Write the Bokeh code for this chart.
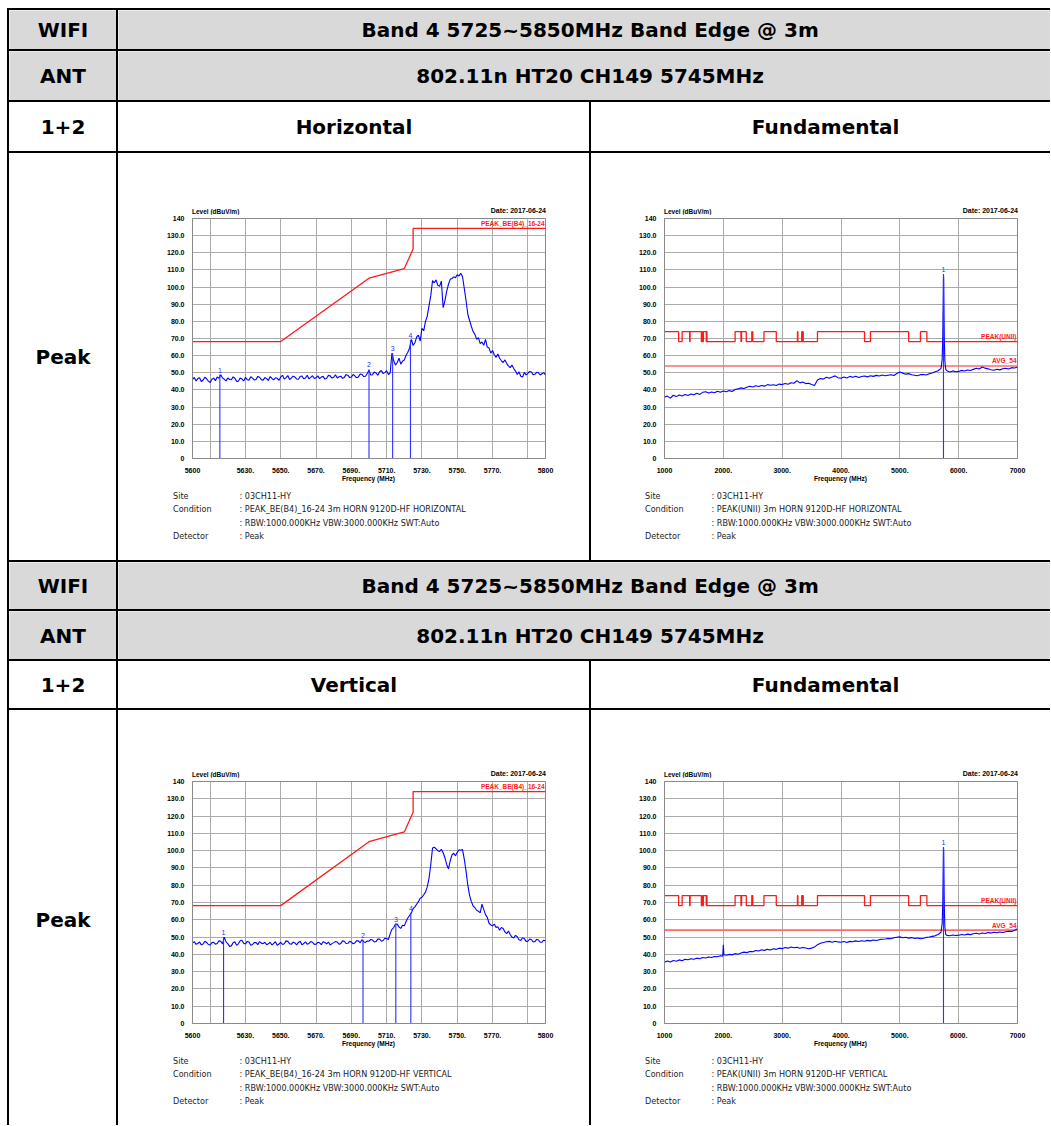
from bokeh.plotting import figure
from bokeh.models import Range1d, FixedTicker, Label, Div
from bokeh.layouts import column, row
from bokeh.embed import file_html
from bokeh.resources import INLINE
from bokeh.core.properties import value

# ---------------- table texts ----------------
hdr_wifi = "WIFI"
hdr_band = "Band 4 5725~5850MHz Band Edge @ 3m"
hdr_ant = "ANT"
hdr_mode = "802.11n HT20 CH149 5745MHz"
hdr_chain = "1+2"
hdr_pol = ["Horizontal", "Vertical"]
hdr_fund = "Fundamental"
hdr_det = "Peak"

# ---------------- chart texts ----------------
level_title = "Level (dBuV/m)"
date_text = "Date: 2017-06-24"
freq_title = "Frequency (MHz)"
be_limit_name = "PEAK_BE(B4)_16-24"
peak_limit_name = "PEAK(UNII)"
avg_limit_name = "AVG_54"

y_ticks = [0, 10, 20, 30, 40, 50, 60, 70, 80, 90, 100, 110, 120, 130, 140]
y_tick_text = ["0", "10.0", "20.0", "30.0", "40.0", "50.0", "60.0", "70.0", "80.0",
               "90.0", "100.0", "110.0", "120.0", "130.0", "140"]
y_grid = [10, 20, 30, 40, 50, 60, 70, 80, 90, 100, 110, 120, 130]

be_x_ticks = [5600, 5630, 5650, 5670, 5690, 5710, 5730, 5750, 5770, 5800]
be_x_text = ["5600", "5630.", "5650.", "5670.", "5690.", "5710.", "5730.", "5750.", "5770.", "5800"]
be_x_grid = [5610, 5630, 5650, 5670, 5690, 5710, 5730, 5750, 5770, 5790]

fu_x_ticks = [1000, 2000, 3000, 4000, 5000, 6000, 7000]
fu_x_text = ["1000", "2000.", "3000.", "4000.", "5000.", "6000.", "7000"]
fu_x_grid = [2000, 3000, 4000, 5000, 6000]

# ---------------- band edge traces (MHz, dBuV/m), 1 MHz steps ----------------
be_freq = list(range(5600, 5801))
h_be_level = [
    46.0, 47.3, 45.2, 46.6, 47.1, 44.9, 45.8, 47.4, 46.5, 45.1,
    44.3, 46.2, 46.9, 45.4, 47.5, 46.8, 48.8, 47.0, 46.2, 45.3,
    47.0, 46.1, 45.9, 47.6, 46.8, 45.0, 45.1, 46.9, 46.4, 45.2,
    47.3, 46.0, 45.6, 47.7, 46.9, 45.8, 46.1, 47.9, 47.4, 46.0,
    45.7, 47.2, 46.6, 45.5, 47.8, 46.7, 45.9, 47.1, 46.8, 45.6,
    47.6, 48.5, 46.3, 47.2, 48.4, 46.1, 46.9, 48.0, 47.5, 46.4,
    46.2, 47.8, 48.1, 46.5, 47.0, 48.6, 46.4, 47.3, 48.3, 46.7,
    47.1, 48.2, 46.6, 47.5, 47.9, 46.3, 46.8, 48.5, 48.2, 46.9,
    47.4, 48.8, 46.9, 47.7, 48.0, 46.8, 47.3, 48.9, 48.6, 47.2,
    47.5, 49.0, 48.2, 47.1, 47.6, 49.3, 49.1, 47.8, 48.0, 49.6,
    51.5, 48.7, 48.9, 50.4, 49.8, 48.6, 50.6, 51.3, 49.5, 50.1,
    51.2, 49.0, 50.0, 61.5, 57.0, 54.5, 56.0, 58.5, 55.0, 56.8,
    57.5, 60.2, 62.0, 64.5, 69.5, 66.0, 67.5, 71.0, 72.0, 68.5,
    76.0, 74.5, 80.0, 83.0, 89.0, 95.0, 103.8, 102.5, 104.2, 101.0,
    100.5, 103.5, 88.0, 92.0, 97.5, 101.5, 104.5, 105.0, 106.0, 105.5,
    107.2, 106.5, 108.0, 106.0, 99.0, 92.0, 84.0, 80.5, 77.0, 74.0,
    72.5, 69.5, 70.5, 67.0, 68.0, 66.0, 69.5, 65.0, 64.5, 61.5,
    63.0, 60.5, 59.0, 61.0, 58.5, 57.0, 56.0, 57.5, 55.5, 54.0,
    53.0, 54.5, 52.5, 51.0, 49.0, 50.5, 48.0, 47.5, 50.2, 48.8,
    49.6, 50.8, 50.5, 48.9, 49.1, 50.3, 50.0, 48.7, 49.4, 50.1,
    48.8]
v_be_level = [
    46.5, 47.4, 45.8, 46.3, 47.2, 45.5, 46.0, 47.6, 46.9, 45.7,
    45.4, 46.8, 47.0, 45.9, 46.3, 47.8, 47.6, 46.0, 50.0, 47.2,
    46.2, 44.6, 44.9, 46.7, 47.3, 45.2, 46.1, 47.9, 48.2, 46.4,
    46.0, 47.5, 47.1, 45.3, 45.7, 46.9, 46.8, 45.6, 47.4, 46.5,
    46.2, 47.0, 45.6, 46.1, 47.0, 45.4, 46.4, 47.3, 45.3, 46.0,
    46.9, 45.7, 46.1, 47.8, 47.5, 46.2, 45.8, 47.1, 46.6, 45.5,
    46.9, 47.6, 45.5, 46.3, 47.2, 45.9, 46.3, 47.4, 47.0, 45.8,
    45.9, 47.0, 46.7, 45.6, 47.3, 46.9, 46.0, 47.1, 45.4, 46.2,
    46.8, 47.5, 47.1, 45.9, 46.2, 47.8, 47.6, 46.3, 46.4, 47.5,
    47.2, 46.1, 46.6, 47.9, 47.8, 46.7, 48.5, 47.3, 46.9, 47.7,
    47.6, 48.6, 48.3, 47.2, 47.4, 48.8, 48.9, 47.6, 48.0, 49.3,
    49.2, 48.5, 52.0, 54.5, 55.5, 57.5, 57.5, 55.8, 55.0, 56.8,
    56.5, 59.0, 61.0, 62.5, 64.0, 66.5, 67.5, 69.0, 70.5, 72.5,
    73.0, 74.5, 76.0, 79.0, 84.0, 92.0, 101.5, 102.0, 101.0, 100.0,
    99.5, 100.8, 98.8, 96.0, 92.0, 89.5, 94.0, 97.5, 98.5, 97.0,
    99.0, 100.5, 100.2, 100.6, 95.0, 88.0, 80.0, 74.0, 70.5, 68.0,
    67.0, 65.5, 65.0, 64.0, 69.0, 66.0, 63.0, 61.5, 58.0, 57.0,
    56.5, 57.5, 55.5, 56.0, 54.0, 55.5, 55.0, 53.0, 52.0, 53.5,
    51.5, 50.0, 49.5, 51.0, 50.2, 48.5, 48.0, 49.6, 49.1, 47.5,
    47.6, 48.9, 48.6, 47.2, 47.4, 48.7, 48.3, 47.0, 47.1, 48.2,
    47.8]
assert len(be_freq) == len(h_be_level) == len(v_be_level)

be_limit_freq = [5600, 5650, 5700, 5720, 5725, 5725, 5800]
be_limit_level = [68.2, 68.2, 105.2, 110.8, 122.2, 134.2, 134.2]

h_be_mk_freq = [5615.5, 5700.0, 5713.4, 5723.5]
h_be_mk_level = [49.0, 52.0, 61.5, 69.0]
v_be_mk_freq = [5617.6, 5696.6, 5715.2, 5723.7]
v_be_mk_level = [50.0, 48.5, 57.5, 64.0]
mk_names = ["1", "2", "3", "4"]

# ---------------- fundamental traces ----------------
fu_peak_freq = [5720, 5730, 5738, 5742, 5746, 5750, 5756, 5765, 5780]
h_fu_freq = list(range(1000, 5701, 50)) + fu_peak_freq + list(range(5800, 7001, 50))
h_fu_level = [
    35.8, 36.4, 35.2, 36.9, 36.1, 37.0, 36.5, 37.3, 36.8, 37.6,
    37.2, 38.1, 37.4, 38.6, 38.9, 38.2, 38.8, 38.3, 39.2, 38.7,
    39.4, 38.9, 39.6, 39.1, 40.2, 40.6, 41.2, 40.8, 41.6, 42.1,
    41.7, 42.4, 42.0, 42.6, 42.2, 43.1, 42.7, 43.0, 42.6, 43.4,
    43.1, 43.8, 43.3, 44.2, 43.9, 45.4, 44.1, 44.6, 43.7, 43.9,
    43.2, 42.6, 45.8, 46.7, 46.3, 47.4, 46.8, 47.6, 48.2, 47.1,
    46.8, 47.5, 47.0, 47.9, 47.4, 48.0, 47.3, 47.8, 48.1, 47.6,
    48.3, 47.9, 48.5, 48.1, 48.7, 48.3, 48.6, 48.9, 48.4, 49.6,
    50.4, 49.8, 49.2, 49.5, 48.9, 48.6, 48.3, 48.9, 49.0, 48.7,
    49.5, 49.9, 50.6, 51.2, 52.6,
    58.0, 72.0, 95.0, 107.5, 104.0, 88.0, 70.0, 57.0, 52.0,
    51.2, 50.5, 51.1, 50.6, 50.8, 51.4, 51.0, 51.6, 51.3, 52.0,
    52.6, 52.2, 53.4, 52.7, 52.3, 51.8, 51.5, 52.1, 51.7, 52.4,
    52.6, 52.2, 53.0, 52.8, 53.4]
v_fu_freq = (list(range(1000, 1951, 50)) + [1990, 2000, 2010] + list(range(2050, 5701, 50))
             + fu_peak_freq + list(range(5800, 7001, 50)))
v_fu_level = [
    35.4, 36.2, 35.6, 36.4, 36.0, 36.8, 36.3, 37.1, 36.9, 37.5,
    37.2, 37.8, 37.5, 38.2, 37.9, 38.5, 38.2, 38.8, 38.6, 39.2,
    39.0, 45.6, 39.8,
    39.5, 40.0, 39.7, 40.4, 40.1, 40.8, 41.3, 41.0, 41.7, 41.5,
    42.2, 41.9, 42.6, 42.3, 42.9, 42.5, 43.2, 42.9, 43.6, 43.3,
    44.0, 43.6, 44.3, 43.8, 44.1, 43.5, 44.0, 43.7, 43.2, 43.6,
    44.2, 45.6, 46.4, 46.9, 47.3, 47.5, 47.0, 47.6, 47.2, 47.0,
    47.4, 46.9, 47.5, 47.3, 47.8, 47.4, 47.9, 47.6, 48.1, 47.8,
    48.3, 48.0, 48.5, 48.7, 48.9, 49.2, 49.0, 49.6, 49.9, 50.1,
    49.6, 49.9, 49.4, 49.7, 49.2, 49.5, 49.0, 49.3, 49.8, 50.0,
    50.4, 50.7, 51.5, 52.8,
    58.0, 70.0, 92.0, 102.0, 99.0, 85.0, 68.0, 56.0, 51.5,
    51.0, 50.8, 51.2, 50.9, 51.1, 51.5, 51.2, 51.7, 51.4, 51.9,
    52.2, 51.8, 52.4, 52.1, 52.6, 52.3, 52.8, 52.5, 52.9, 52.6,
    53.1, 53.4, 53.2, 53.9, 54.8]
assert len(h_fu_freq) == len(h_fu_level)
assert len(v_fu_freq) == len(v_fu_level)

h_fu_mk_freq = [5742]
h_fu_mk_level = [107.5]
v_fu_mk_freq = [5742]
v_fu_mk_level = [102.0]

# FCC 15.205 restricted bands inside 1-7 GHz (MHz)
restricted_bands = [(960, 1240), (1300, 1427), (1435, 1626.5), (1645.5, 1646.5),
                    (1660, 1710), (1718.8, 1722.2), (2200, 2300), (2310, 2390),
                    (2483.5, 2500), (2690, 2900), (3260, 3267), (3332, 3339),
                    (3345.8, 3358), (3600, 4400), (4500, 5150), (5350, 5460)]
restricted_level = 74.0
general_level = 68.2
avg_level = 54.0

site_text = ": 03CH11-HY"
rbw_text = ": RBW:1000.000KHz VBW:3000.000KHz SWT:Auto"
det_text = ": Peak"
cond_be = [": PEAK_BE(B4)_16-24 3m HORN 9120D-HF HORIZONTAL",
           ": PEAK_BE(B4)_16-24 3m HORN 9120D-HF VERTICAL"]
cond_fu = [": PEAK(UNII) 3m HORN 9120D-HF HORIZONTAL",
           ": PEAK(UNII) 3m HORN 9120D-HF VERTICAL"]

# ---------------- styling ----------------
GRAY = "#d9d9d9"
BLACK = "#000000"
HDR_FONT = "DejaVu Sans"
HDR_SIZE = "20px"
AX_FONT = "Liberation Sans"
CAP_FONT = "DejaVu Sans"
BLUE = "#0000ff"
MK_BLUE = "#2f2fff"
RED = "#ff1a1a"
TOP_BORDER = 4
BOT_BORDER = 14


def step_limit(bands, lo, hi, x0, x1):
    pts = [x0] + sorted(b for band in bands for b in band if x0 < b < x1) + [x1]
    xs, ys = [], []
    for a, b in zip(pts[:-1], pts[1:]):
        mid = 0.5 * (a + b)
        lev = hi if any(s <= mid <= e for s, e in bands) else lo
        xs += [a, b]
        ys += [lev, lev]
    return xs, ys


def strip(w, h, items):
    """HTML strip holding texts placed in pixels (x, y-centre from the top)."""
    parts = []
    for x, yc, txt, align, font, size, weight, color in items:
        lh = 10
        if align == "left":
            pos = "left:%.1fpx;" % x
        elif align == "right":
            pos = "right:%.1fpx;" % (w - x)
        else:
            pos = "left:%.1fpx;transform:translateX(-50%%);" % x
        parts.append(
            '<span style="position:absolute;%stop:%.1fpx;line-height:%dpx;white-space:nowrap;'
            "font-family:'%s';font-size:%spx;font-weight:%s;color:%s;\">%s</span>"
            % (pos, yc - lh / 2.0, lh, font, size, weight, color, txt))
    html = ('<div style="position:relative;width:%dpx;height:%dpx;">' % (w, h)
            + "".join(parts) + "</div>")
    return Div(text=html, width=w, height=h, margin=0, styles={"background-color": "white"})


def chart(w, h_cell, frame_top, fh, left, right, x0, x1, xt, xtt, xg,
          tx, ty, limits, limit_labels, mkx, mky, caption):
    fw = w - left - right
    sy = 140.0 / fh
    sx = (x1 - x0) / fw
    h_top = frame_top - TOP_BORDER
    h_fig = TOP_BORDER + fh + BOT_BORDER
    h_bot = h_cell - h_top - h_fig

    top = strip(w, h_top, [
        (left, h_top - 2.0, level_title, "left", AX_FONT, 6.5, "bold", "#000"),
        (left + fw + 1, h_top - 3.3, date_text, "right", AX_FONT, 7, "bold", "#000"),
    ])

    p = figure(width=w, height=h_fig, x_range=Range1d(x0, x1), y_range=Range1d(0, 140),
               output_backend="svg", toolbar_location=None,
               min_border_left=left, min_border_right=right,
               min_border_top=TOP_BORDER, min_border_bottom=BOT_BORDER,
               background_fill_color="white", border_fill_color="white",
               outline_line_color="#8a8a8a")
    p.xaxis.ticker = FixedTicker(ticks=xt)
    p.xaxis.major_label_overrides = {t: s for t, s in zip(xt, xtt)}
    p.yaxis.ticker = FixedTicker(ticks=y_ticks)
    p.yaxis.major_label_overrides = {t: s for t, s in zip(y_ticks, y_tick_text)}
    for ax in (p.xaxis[0], p.yaxis[0]):
        ax.major_tick_line_color = None
        ax.minor_tick_line_color = None
        ax.axis_line_color = "#8a8a8a"
        ax.major_label_text_font = AX_FONT
        ax.major_label_text_font_style = "bold"
        ax.major_label_text_font_size = "7px"
        ax.major_label_text_color = "#000000"
        ax.major_label_standoff = 2
    p.xaxis.major_label_standoff = 3
    p.xgrid.ticker = FixedTicker(ticks=xg)
    p.ygrid.ticker = FixedTicker(ticks=y_grid)
    p.grid.grid_line_color = "#ababab"
    p.grid.grid_line_width = 1

    for lx, ly, lw, lc in limits:
        p.line(lx, ly, line_color=lc, line_width=lw)
    p.line(tx, ty, line_color=BLUE, line_width=1.1)
    p.segment(x0=mkx, y0=[0] * len(mkx), x1=mkx, y1=mky, line_color=MK_BLUE, line_width=1.1)
    p.text(x=mkx, y=mky, text=mk_names[:len(mkx)], text_color=MK_BLUE,
           text_font=value(AX_FONT), text_font_size="7px",
           text_align="center", text_baseline="bottom", y_offset=-2)
    for txt, lev in limit_labels:
        p.add_layout(Label(x=x1 - 1 * sx, y=lev + 1.5 * sy, text=txt, text_align="right",
                           text_baseline="bottom", text_color=RED, text_font=AX_FONT,
                           text_font_style="bold", text_font_size="6.5px"))

    items = [(left + fw / 2.0, 17.6 - BOT_BORDER, freq_title, "center", AX_FONT, 6.6, "bold", "#000")]
    for (name, txt), dyp in zip(caption, [34.5, 48.0, 61.5, 75.0]):
        yy = dyp - BOT_BORDER
        if name:
            items.append((left - 19, yy, name, "left", CAP_FONT, 8.1, "normal", "#222"))
        items.append((left + 47.5, yy, txt, "left", CAP_FONT, 8.1, "normal", "#222"))
    bot = strip(w, h_bot, items)
    return column(top, p, bot, spacing=0)


def cell(text, w, h, bg, fx=0.5, fy=0.5):
    p = figure(width=w, height=h, x_range=Range1d(0, 1), y_range=Range1d(0, 1),
               output_backend="svg", toolbar_location=None, min_border=0,
               background_fill_color=bg, border_fill_color=bg, outline_line_color=None,
               x_axis_location=None, y_axis_location=None)
    p.grid.visible = False
    p.add_layout(Label(x=fx, y=fy, text=text, text_align="center", text_baseline="middle",
                       text_font=HDR_FONT, text_font_style="bold", text_font_size=HDR_SIZE,
                       text_color="#000000"))
    return p


def hline(w):
    return Div(text="", width=w, height=2, margin=0, styles={"background-color": BLACK})


def vline(h):
    return Div(text="", width=2, height=h, margin=0, styles={"background-color": BLACK})


W1, W2, W3 = 107, 471, 459
WS = W2 + 2 + W3
TOTAL_W = 2 + W1 + 2 + WS

fu_lim_x, fu_lim_y = step_limit(restricted_bands, general_level, restricted_level, 1000, 7000)


def be_chart(pol, h, frame_top, fh):
    lev = h_be_level if pol == 0 else v_be_level
    mkx = h_be_mk_freq if pol == 0 else v_be_mk_freq
    mky = h_be_mk_level if pol == 0 else v_be_mk_level
    cap = [("Site", site_text), ("Condition", cond_be[pol]), ("", rbw_text), ("Detector", det_text)]
    return chart(W2, h, frame_top, fh, 74, 44, 5600, 5800, be_x_ticks, be_x_text, be_x_grid,
                 be_freq, lev, [(be_limit_freq, be_limit_level, 1.3, RED)],
                 [(be_limit_name, 134.2)], mkx, mky, cap)


def fu_chart(pol, h, frame_top, fh):
    fx = h_fu_freq if pol == 0 else v_fu_freq
    lev = h_fu_level if pol == 0 else v_fu_level
    mkx = h_fu_mk_freq if pol == 0 else v_fu_mk_freq
    mky = h_fu_mk_level if pol == 0 else v_fu_mk_level
    cap = [("Site", site_text), ("Condition", cond_fu[pol]), ("", rbw_text), ("Detector", det_text)]
    return chart(W3, h, frame_top, fh, 73, W3 - 73 - 353, 1000, 7000, fu_x_ticks, fu_x_text,
                 fu_x_grid, fx, lev,
                 [(fu_lim_x, fu_lim_y, 1.3, RED),
                  ([1000, 7000], [avg_level, avg_level], 1.6, "#ff6b6b")],
                 [(peak_limit_name, general_level), (avg_limit_name, avg_level)], mkx, mky, cap)


def block(pol, h1, h2, h3, hc, frame_top, fh, peak_fy):
    rows = []
    rows.append(hline(TOTAL_W))
    rows.append(row(vline(h1), cell(hdr_wifi, W1, h1, GRAY), vline(h1),
                    cell(hdr_band, WS, h1, GRAY, fx=0.506), spacing=0))
    rows.append(hline(TOTAL_W))
    rows.append(row(vline(h2), cell(hdr_ant, W1, h2, GRAY), vline(h2),
                    cell(hdr_mode, WS, h2, GRAY, fx=0.506), spacing=0))
    rows.append(hline(TOTAL_W))
    rows.append(row(vline(h3), cell(hdr_chain, W1, h3, "white"), vline(h3),
                    cell(hdr_pol[pol], W2, h3, "white"), vline(h3),
                    cell(hdr_fund, W3, h3, "white", fx=0.51), spacing=0))
    rows.append(hline(TOTAL_W))
    rows.append(row(vline(hc), cell(hdr_det, W1, hc, "white", fy=peak_fy), vline(hc),
                    be_chart(pol, hc, frame_top, fh), vline(hc),
                    fu_chart(pol, hc, frame_top, fh), spacing=0))
    return rows


layout_rows = (block(0, 39, 49, 49, 407, 65, 243, 0.5)
               + block(1, 47, 48, 47, 415, 71, 245, 0.494))
root = column(*layout_rows, spacing=0, margin=(8, 0, 0, 7))

open("out.html", "w").write(file_html(root, INLINE))
